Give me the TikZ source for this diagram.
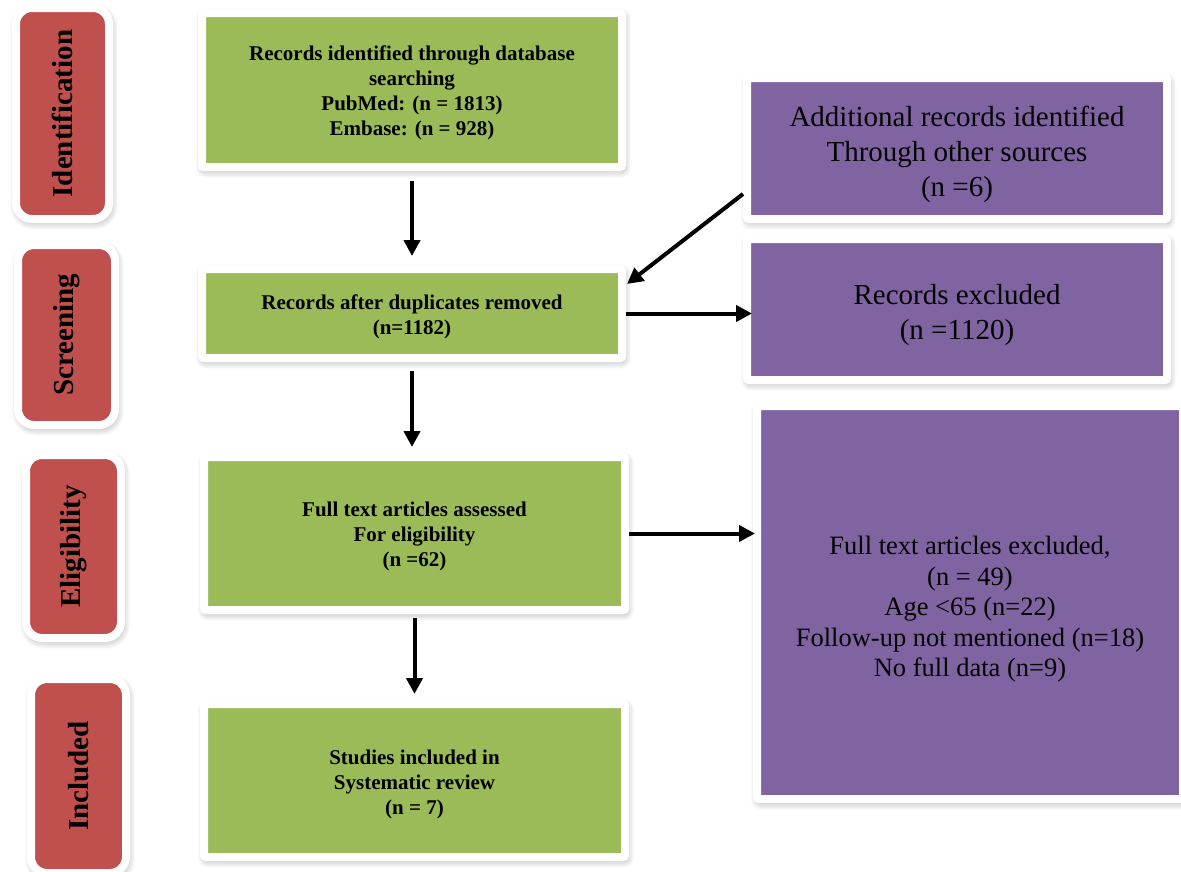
\documentclass[tikz,border=0pt]{standalone}
\usepackage{fontspec}
\setmainfont{Liberation Serif}
\usetikzlibrary{arrows.meta, calc, shadows.blur}
\definecolor{stagered}{HTML}{C0504D}
\definecolor{boxgreen}{HTML}{9BBB59}
\definecolor{boxpurple}{HTML}{8064A2}
\newcommand{\topgap}[1]{\rule{0pt}{#1pt}}
\tikzset{
  framed/.style = {draw=white, line width=8pt, inner sep=0pt, align=center,
    blur shadow={shadow xshift=1.5pt, shadow yshift=-3pt, shadow blur radius=8pt,
      shadow blur steps=8, shadow opacity=40}},
  stage/.style = {framed, fill=stagered, rounded corners=16pt, rotate=90,
    font=\fontsize{29}{35}\selectfont\bfseries},
  flowbox/.style = {framed, fill=boxgreen, rounded corners=2pt,
    font=\fontsize{21}{25}\selectfont\bfseries},
  sidebox/.style = {framed, fill=boxpurple, rounded corners=2pt,
    font=\fontsize{29}{35}\selectfont},
  flowarrow/.style = {line width=4pt, -{Triangle[length=16pt, width=16pt]}}
}

\begin{document}
\begin{tikzpicture}[x=1pt, y=-1pt]
\useasboundingbox (0,0) rectangle (1181,871);
% stage labels
\node [stage, minimum width=211pt, minimum height=93pt] (ident) at (62.5,113.5) {Identification};
\node [stage, minimum width=180pt, minimum height=97pt] (screening) at (66.5,335) {Screening};
\node [stage, minimum width=183pt, minimum height=95pt] (eligibility) at (73.5,546.5) {Eligibility};
\node [stage, minimum width=194pt, minimum height=95pt] (included) at (78.5,776) {Included};
% main column
\node [flowbox, minimum width=420pt, minimum height=154pt] (search) at (412,90)
  {\topgap{21}Records identified through database\\searching\\PubMed: (n = 1813)\\Embase: (n = 928)};
\node [flowbox, minimum width=420pt, minimum height=89pt] (dedup) at (412,313.5)
  {\topgap{21}Records after duplicates removed\\(n=1182)};
\node [flowbox, minimum width=421pt, minimum height=153pt] (fulltext) at (414.5,533.5)
  {\topgap{21}Full text articles assessed\\For eligibility\\(n =62)};
\node [flowbox, minimum width=421pt, minimum height=153pt] (studies) at (414.5,780.5)
  {\topgap{23}Studies included in\\Systematic review\\(n = 7)};
% side column
\node [sidebox, minimum width=420pt, minimum height=141pt] (other) at (957,148.5)
  {\topgap{32}Additional records identified\\Through other sources\\(n =6)};
\node [sidebox, minimum width=420pt, minimum height=141pt] (excluded) at (957,309.5)
  {\topgap{32}Records excluded\\(n =1120)};
\node [sidebox, minimum width=426pt, minimum height=393pt,
  font=\fontsize{26.5}{30.5}\selectfont] (ftexcl) at (970,602.5)
  {\topgap{32}Full text articles excluded,\\(n = 49)\\Age <65 (n=22)\\Follow-up not mentioned (n=18)\\No full data (n=9)};
% connectors
\coordinate (otherfoot) at ($(other.west)+(0,45.5)$);
\coordinate (dedupin) at ($(dedup.north east)+(1,19)$);
\draw [flowarrow, shorten <=10pt, shorten >=9pt] (search.south) -- (dedup.north);
\draw [flowarrow] (otherfoot) -- (dedupin);
\draw [flowarrow, shorten >=-9pt] (dedup.east) -- (dedup.east -| excluded.west);
\draw [flowarrow, shorten <=9pt, shorten >=6pt] (dedup.south) -- (dedup.south |- fulltext.north);
\draw [flowarrow, shorten >=-2pt] (fulltext.east) -- (fulltext.east -| ftexcl.west);
\draw [flowarrow, shorten <=4pt, shorten >=6pt] (fulltext.south) -- (studies.north);
\end{tikzpicture}
\end{document}
